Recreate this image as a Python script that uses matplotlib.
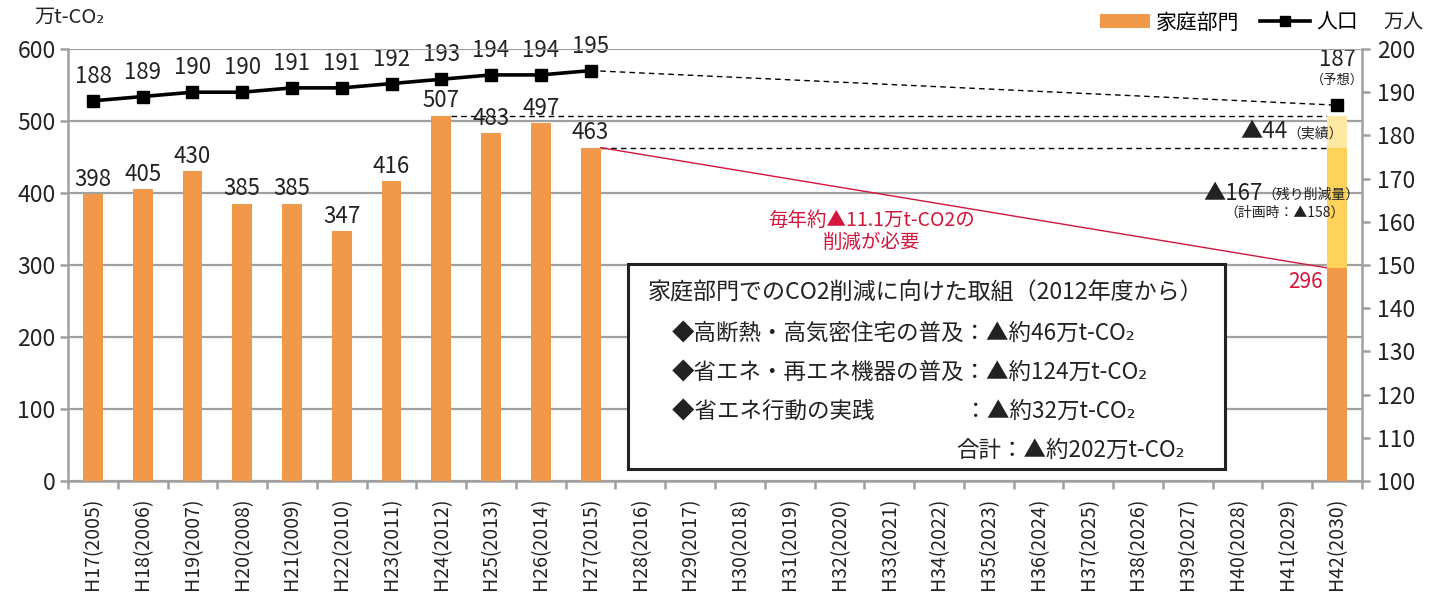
import matplotlib
matplotlib.use("Agg")
import matplotlib.pyplot as plt
from matplotlib.patches import Rectangle, Patch
from matplotlib.lines import Line2D

plt.rcParams['font.family'] = ['Noto Sans CJK JP', 'DejaVu Sans']

# Fiscal years (Heisei era / western year)
years = ["H17(2005)", "H18(2006)", "H19(2007)", "H20(2008)", "H21(2009)",
         "H22(2010)", "H23(2011)", "H24(2012)", "H25(2013)", "H26(2014)",
         "H27(2015)", "H28(2016)", "H29(2017)", "H30(2018)", "H31(2019)",
         "H32(2020)", "H33(2021)", "H34(2022)", "H35(2023)", "H36(2024)",
         "H37(2025)", "H38(2026)", "H39(2027)", "H40(2028)", "H41(2029)",
         "H42(2030)"]

# Household-sector CO2 emissions (10k t-CO2), actuals H17-H27
emissions = [398, 405, 430, 385, 385, 347, 416, 507, 483, 497, 463]
# Population (10k people), actuals H17-H27 and forecast for H42
population = [188, 189, 190, 190, 191, 191, 192, 193, 194, 194, 195]
population_2030 = 187
# 2030 target bar: remaining emissions, reduction still needed, reduction achieved
target_2030 = 296
remaining_cut = 167
achieved_cut = 44
planned_cut = 158

# Measures listed in the box
measures = ["◆高断熱・高気密住宅の普及：▲約46万t-CO₂",
            "◆省エネ・再エネ機器の普及：▲約124万t-CO₂",
            "◆省エネ行動の実践　　　　：▲約32万t-CO₂"]
measures_total = "合計：▲約202万t-CO₂"

ORANGE = "#F0994B"
YELLOW = "#FFD35A"
LIGHT_YELLOW = "#FFE8A3"
RED = "#D3163B"
GRID = "#A0A0A0"
TXT = "#222222"

fig = plt.figure(figsize=(14.3, 6.08), dpi=100)
ax = fig.add_axes([0.0476, 0.2089, 0.9048, 0.7105])
ax2 = ax.twinx()

n = len(years)
x = list(range(n))
bw = 0.4

# Gridlines
ax.set_ylim(0, 600)
ax.set_xlim(-0.5, n - 0.5)
ax.set_yticks(range(0, 601, 100))
ax.grid(axis='y', color=GRID, linewidth=1.6, zorder=0)
ax.set_axisbelow(True)

# Bars
ax.bar(x[:len(emissions)], emissions, width=bw, color=ORANGE, zorder=3)
last = n - 1
ax.bar(last, target_2030, width=bw, color=ORANGE, zorder=3)
ax.bar(last, remaining_cut, bottom=target_2030, width=bw, color=YELLOW, zorder=3)
ax.bar(last, achieved_cut, bottom=target_2030 + remaining_cut, width=bw,
       color=LIGHT_YELLOW, zorder=3)

for i, v in enumerate(emissions):
    ax.text(i, v + 5, str(v), ha='center', va='bottom', fontsize=16, color=TXT, zorder=6)

# Reference dashed lines from the peak year and the latest year
i_peak = emissions.index(max(emissions))
i_last = len(emissions) - 1
ax.plot([i_peak + bw / 2, last - bw / 2], [max(emissions)] * 2, ls=(0, (4, 3)),
        color='black', lw=1.0, zorder=2)
ax.plot([i_last + bw / 2, last - bw / 2], [emissions[-1]] * 2, ls=(0, (4, 3)),
        color='black', lw=1.0, zorder=2)
# Required reduction path
ax.plot([i_last + bw / 2, last - bw / 2], [emissions[-1], target_2030],
        color=RED, lw=1.0, zorder=2)

ax.text(15.65, 347, "毎年約▲11.1万t-CO2の\n削減が必要", ha='center', va='center',
        fontsize=14, color=RED, linespacing=1.05, zorder=6)
ax.text(last - bw / 2 - 0.08, target_2030 - 5, str(target_2030), ha='right', va='top',
        fontsize=15, color=RED, zorder=6)

# Reduction annotations beside the 2030 bar
ax.text(24.0, 485, f"▲{achieved_cut}", ha='right', va='center', fontsize=16, color=TXT, zorder=6)
ax.text(24.0, 483, "（実績）", ha='left', va='center', fontsize=10, color=TXT, zorder=6)
ax.text(23.5, 399, f"▲{remaining_cut}", ha='right', va='center', fontsize=16, color=TXT, zorder=6)
ax.text(23.5, 397, "（残り削減量）", ha='left', va='center', fontsize=10, color=TXT, zorder=6)
ax.text(25.15, 372, f"（計画時：▲{planned_cut}）", ha='right', va='center', fontsize=10,
        color=TXT, zorder=6)

# Measures box
box = Rectangle((10.75, 17), 12.0, 284, facecolor='white', edgecolor='#222222',
                lw=2.2, zorder=4)
ax.add_patch(box)
ax.text(11.15, 261, "家庭部門でのCO2削減に向けた取組（2012年度から）", ha='left',
        va='center', fontsize=16.6, color=TXT, zorder=6)
for k, m in enumerate(measures):
    ax.text(11.64, 206 - k * 54.5, m, ha='left', va='center', fontsize=16.2,
            color=TXT, zorder=6)
ax.text(21.95, 43, measures_total, ha='right', va='center', fontsize=16.2,
        color=TXT, zorder=6)

# Population line (right axis)
ax2.set_ylim(100, 200)
ax2.set_yticks(range(100, 201, 10))
ax2.plot(x[:len(population)], population, color='black', lw=2.6, marker='s',
         markersize=9, zorder=5)
ax2.plot([i_last, last], [population[-1], population_2030], ls=(0, (4, 3)),
         color='black', lw=1.0, zorder=5)
ax2.plot([last], [population_2030], marker='s', color='black', markersize=9, zorder=5)
for i, v in enumerate(population):
    ax2.text(i, v + 3.0, str(v), ha='center', va='bottom', fontsize=16, color=TXT)
ax2.text(last, 197.5, str(population_2030), ha='center', va='center', fontsize=16, color=TXT)
ax2.text(last, 192.8, "（予想）", ha='center', va='center', fontsize=9.5, color=TXT)

ax.set_zorder(ax2.get_zorder() + 1)
ax.patch.set_visible(False)

# Axes styling
for a in (ax, ax2):
    for s in a.spines.values():
        s.set_visible(False)
ax.spines['left'].set_visible(True)
ax.spines['left'].set_color(GRID)
ax.spines['left'].set_linewidth(1.8)
ax.spines['bottom'].set_visible(True)
ax.spines['bottom'].set_color(GRID)
ax.spines['bottom'].set_linewidth(1.8)
ax2.spines['right'].set_visible(True)
ax2.spines['right'].set_color(GRID)
ax2.spines['right'].set_linewidth(1.8)

ax.set_xticks(x)
ax.set_xticklabels(years, rotation=90, fontsize=14, color=TXT)
ax.tick_params(axis='x', length=0, pad=12)
ax.set_xticks([i - 0.5 for i in range(n + 1)], minor=True)
ax.tick_params(axis='x', which='minor', length=6, width=1.8, color=GRID)
ax.tick_params(axis='y', length=6, width=1.8, color=GRID, labelsize=16.5,
               labelcolor=TXT, pad=3)
ax2.tick_params(axis='y', length=6, width=1.8, color=GRID, labelsize=16.5,
                labelcolor=TXT, pad=5)

# Axis unit labels
fig.text(0.024, 0.972, "万t-CO₂", ha='left', va='center', fontsize=14.5, color=TXT)
fig.text(0.9955, 0.963, "万人", ha='right', va='center', fontsize=14.5, color=TXT)

# Legend
handles = [Patch(facecolor=ORANGE, edgecolor='none'),
           Line2D([0], [0], color='black', lw=2.6, marker='s', markersize=7)]
fig.legend(handles, ["家庭部門", "人口"], loc='upper right',
           bbox_to_anchor=(0.963, 1.012), ncol=2, frameon=False, fontsize=15,
           handlelength=2.4, handleheight=0.6, columnspacing=1.0, handletextpad=0.3)

fig.savefig("out.png", dpi=100)
